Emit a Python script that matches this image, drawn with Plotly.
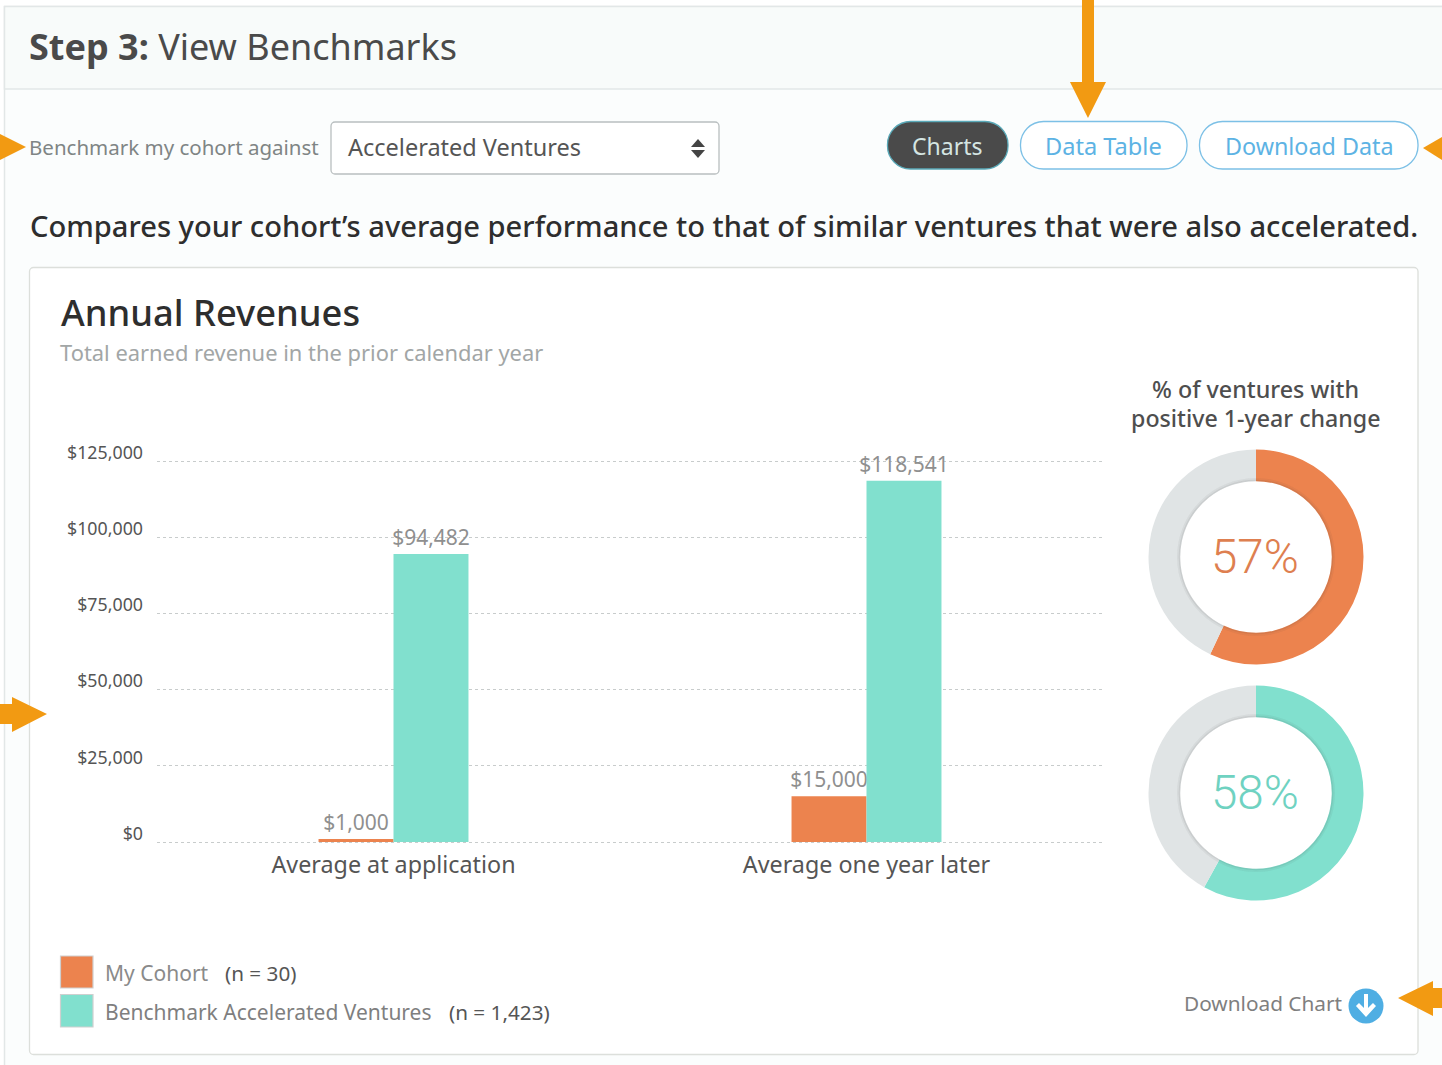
import plotly.graph_objects as go

W, H = 1442, 1065
categories = ["Average at application", "Average one year later"]
my_cohort = [1000, 15000]
benchmark = [94482, 118541]
y_ticks = [0, 25000, 50000, 75000, 100000, 125000]
y_tick_labels = ["$0", "$25,000", "$50,000", "$75,000", "$100,000", "$125,000"]
cohort_positive = [57, 43]
benchmark_positive = [58, 42]

ORANGE, TEAL, GREY = "#EC834E", "#81E0CE", "#E0E4E5"
ARROW, BLUE = "#F29A12", "#5DB3E4"
FONT = "Noto Sans"


def px(x):
    return x / W


def py(y):
    return 1 - y / H


def rect(x0, y0, x1, y1, fill="rgba(0,0,0,0)", line="rgba(0,0,0,0)", width=1):
    return dict(type="rect", xref="paper", yref="paper", x0=px(x0), x1=px(x1), y0=py(y0), y1=py(y1),
                fillcolor=fill, line=dict(color=line, width=width), layer="below")


def poly(points, fill):
    d = "M " + " L ".join(f"{px(x):.5f},{py(y):.5f}" for x, y in points) + " Z"
    return dict(type="path", xref="paper", yref="paper", path=d, fillcolor=fill, line=dict(width=0), layer="above")


def rounded(x0, y0, x1, y1, r, fill, line, width=1.3):
    k = r * 0.45
    pts = (f"M {px(x0+r):.5f},{py(y0):.5f} L {px(x1-r):.5f},{py(y0):.5f} "
           f"C {px(x1-k):.5f},{py(y0):.5f} {px(x1):.5f},{py(y0+k):.5f} {px(x1):.5f},{py(y0+r):.5f} "
           f"L {px(x1):.5f},{py(y1-r):.5f} "
           f"C {px(x1):.5f},{py(y1-k):.5f} {px(x1-k):.5f},{py(y1):.5f} {px(x1-r):.5f},{py(y1):.5f} "
           f"L {px(x0+r):.5f},{py(y1):.5f} "
           f"C {px(x0+k):.5f},{py(y1):.5f} {px(x0):.5f},{py(y1-k):.5f} {px(x0):.5f},{py(y1-r):.5f} "
           f"L {px(x0):.5f},{py(y0+r):.5f} "
           f"C {px(x0):.5f},{py(y0+k):.5f} {px(x0+k):.5f},{py(y0):.5f} {px(x0+r):.5f},{py(y0):.5f} Z")
    return dict(type="path", xref="paper", yref="paper", path=pts, fillcolor=fill,
                line=dict(color=line, width=width), layer="below")


def circle(cx, cy, r, fill="rgba(0,0,0,0)", line="rgba(0,0,0,0)", width=1, layer="above"):
    return dict(type="circle", xref="paper", yref="paper", x0=px(cx - r), x1=px(cx + r), y0=py(cy + r), y1=py(cy - r),
                fillcolor=fill, line=dict(color=line, width=width), layer=layer)


def text(s, x, y, size, color, anchor="left", font=FONT, weight=None):
    f = dict(size=size, color=color, family=font)
    if weight:
        f["weight"] = weight
    return dict(text=s, x=px(x), y=py(y), xref="paper", yref="paper", xanchor=anchor, yanchor="middle",
                showarrow=False, font=f, borderpad=0)


fig = go.Figure()
label_font = dict(size=21, color="#8f8f8f", family=FONT)
fig.add_bar(x=categories, y=my_cohort, name="My Cohort", marker=dict(color=ORANGE, line=dict(width=0)),
            texttemplate="$%{y:,}", textposition="outside", textfont=label_font, cliponaxis=False, constraintext="none")
fig.add_bar(x=categories, y=benchmark, name="Benchmark Accelerated Ventures", marker=dict(color=TEAL, line=dict(width=0)),
            texttemplate="$%{y:,}", textposition="outside", textfont=label_font, cliponaxis=False, constraintext="none")

R = 107.5
for vals, col, cy in ((cohort_positive, ORANGE, 557), (benchmark_positive, TEAL, 793)):
    fig.add_pie(values=vals, sort=False, direction="clockwise", rotation=0, hole=0.705, textinfo="none",
                marker=dict(colors=[col, GREY], line=dict(width=0)), showlegend=False, hoverinfo="skip",
                domain=dict(x=[px(1256 - R), px(1256 + R)], y=[py(cy + R), py(cy - R)]))

shapes = [
    rect(0, 0, W, H, fill="#ffffff"),
    rect(4.5, 6.5, W + 5, H + 5, fill="#FBFDFD", line="#E2E7E7", width=1.5),
    rect(4.5, 6.5, W + 5, 89, fill="#F8FBFA", line="#E2E7E7", width=1.5),
    rounded(331, 122, 719, 174, 4, "#ffffff", "#B9BFC0"),
    rounded(887.5, 121.5, 1008, 169, 23, "#4A4A4A", "#5AA9B8"),
    rounded(1020.5, 121.5, 1187, 169, 23, "#ffffff", "#7CC0E6"),
    rounded(1199.5, 121.5, 1418, 169, 23, "#ffffff", "#7CC0E6"),
    rounded(29.5, 267.5, 1418, 1054.5, 4, "#ffffff", "#DCDFDB"),
    rect(60.5, 956, 93, 988, fill=ORANGE, line="#CFCFCF", width=1.2),
    rect(60.5, 994.5, 93, 1027, fill=TEAL, line="#CFCFCF", width=1.2),
    poly([(698, 139), (705, 147), (691, 147)], "#444444"),
    poly([(691, 150), (705, 150), (698, 158)], "#444444"),
    poly([(0, 134), (26, 147), (0, 160)], ARROW),
    poly([(0, 704), (12, 704), (12, 697), (47, 714), (12, 732), (12, 724), (0, 724)], ARROW),
    poly([(1082, 0), (1094, 0), (1094, 82), (1106, 82), (1088, 118), (1070, 82), (1082, 82)], ARROW),
    poly([(1442, 137), (1423, 148), (1442, 160)], ARROW),
    poly([(1442, 988), (1433, 988), (1433, 981), (1398, 998), (1433, 1016), (1433, 1008), (1442, 1008)], ARROW),
    circle(1366, 1006, 17.5, fill="#4FAEE3"),
    poly([(1364, 994), (1368, 994), (1368, 1008), (1373, 1003), (1376, 1006), (1366, 1017), (1356, 1006), (1359, 1003), (1364, 1008)], "#ffffff"),
]
for cy in (557, 793):
    shapes += [circle(1256, cy, 76.5, line="rgba(60,60,60,0.13)", width=1.5),
               circle(1256, cy, 78, line="rgba(60,60,60,0.06)", width=2)]

annotations = [
    text("<b>Step 3:</b> View Benchmarks", 28, 46.5, 36, "#4A4A4A"),
    text("Benchmark my cohort against", 28, 147, 20.5, "#7F8585"),
    text("Accelerated Ventures", 346.5, 147, 23.5, "#555555"),
    text("Charts", 947, 145.5, 23, "#D5E5E2", "center"),
    text("Data Table", 1103.5, 145.5, 23.6, "#5DB3E4", "center"),
    text("Download Data", 1308.5, 145.5, 23.3, "#5DB3E4", "center"),
    text("Compares your cohort’s average performance to that of similar ventures that were also accelerated.",
         28.5, 226.5, 29.1, "#2E2E2E", weight=500),
    text("Annual Revenues", 60, 312, 36.3, "#2E2E2E", weight=500),
    text("Total earned revenue in the prior calendar year", 59, 352.5, 21.9, "#A2A6A6"),
    text("% of ventures with", 1255.5, 389, 23.3, "#4E4E4E", "center", weight=500),
    text("positive 1-year change", 1255.5, 417.5, 23.2, "#4E4E4E", "center", weight=500),
    text("57%", 1255, 557, 47.5, "#DE7F50", "center", font="Roboto", weight=300),
    text("58%", 1255, 793, 47.5, "#6FD2C1", "center", font="Roboto", weight=300),
    text("My Cohort", 104, 972.5, 21, "#8A8A8A"),
    text("(n = 30)", 224, 972.5, 20.7, "#555555"),
    text("Benchmark Accelerated Ventures", 104, 1011.5, 21, "#7F7F7F"),
    text("(n = 1,423)", 448, 1011.5, 20.7, "#555555"),
    text("Download Chart", 1183, 1002.5, 20.8, "#7F7F7F"),
]

fig.update_layout(
    width=W, height=H, margin=dict(l=0, r=0, t=0, b=0), autosize=False,
    paper_bgcolor="#ffffff", plot_bgcolor="rgba(0,0,0,0)", showlegend=False,
    barmode="group", bargap=0.683, bargroupgap=0, uniformtext=dict(mode=False),
    shapes=shapes, annotations=annotations,
    xaxis=dict(domain=[px(157), px(1103)], showgrid=False, zeroline=False, showline=False, ticks="",
               tickfont=dict(size=23.3, color="#555555", family=FONT), ticklabelstandoff=5, automargin=False),
    yaxis=dict(domain=[py(843.52), py(459.48)], range=[-500, 125500], tickvals=y_ticks, ticktext=y_tick_labels,
               showgrid=True, gridcolor="#C8CCCC", griddash="dot", gridwidth=1, zeroline=False, showline=False,
               ticks="", ticklabelposition="outside top", ticklabelstandoff=13, ticklabelshift=4,
               tickfont=dict(size=17.8, color="#555555", family=FONT), automargin=False),
)
fig.write_html("out.html", config=dict(displayModeBar=False),
               post_script="document.body.style.margin='0';document.body.style.overflow='hidden';")
